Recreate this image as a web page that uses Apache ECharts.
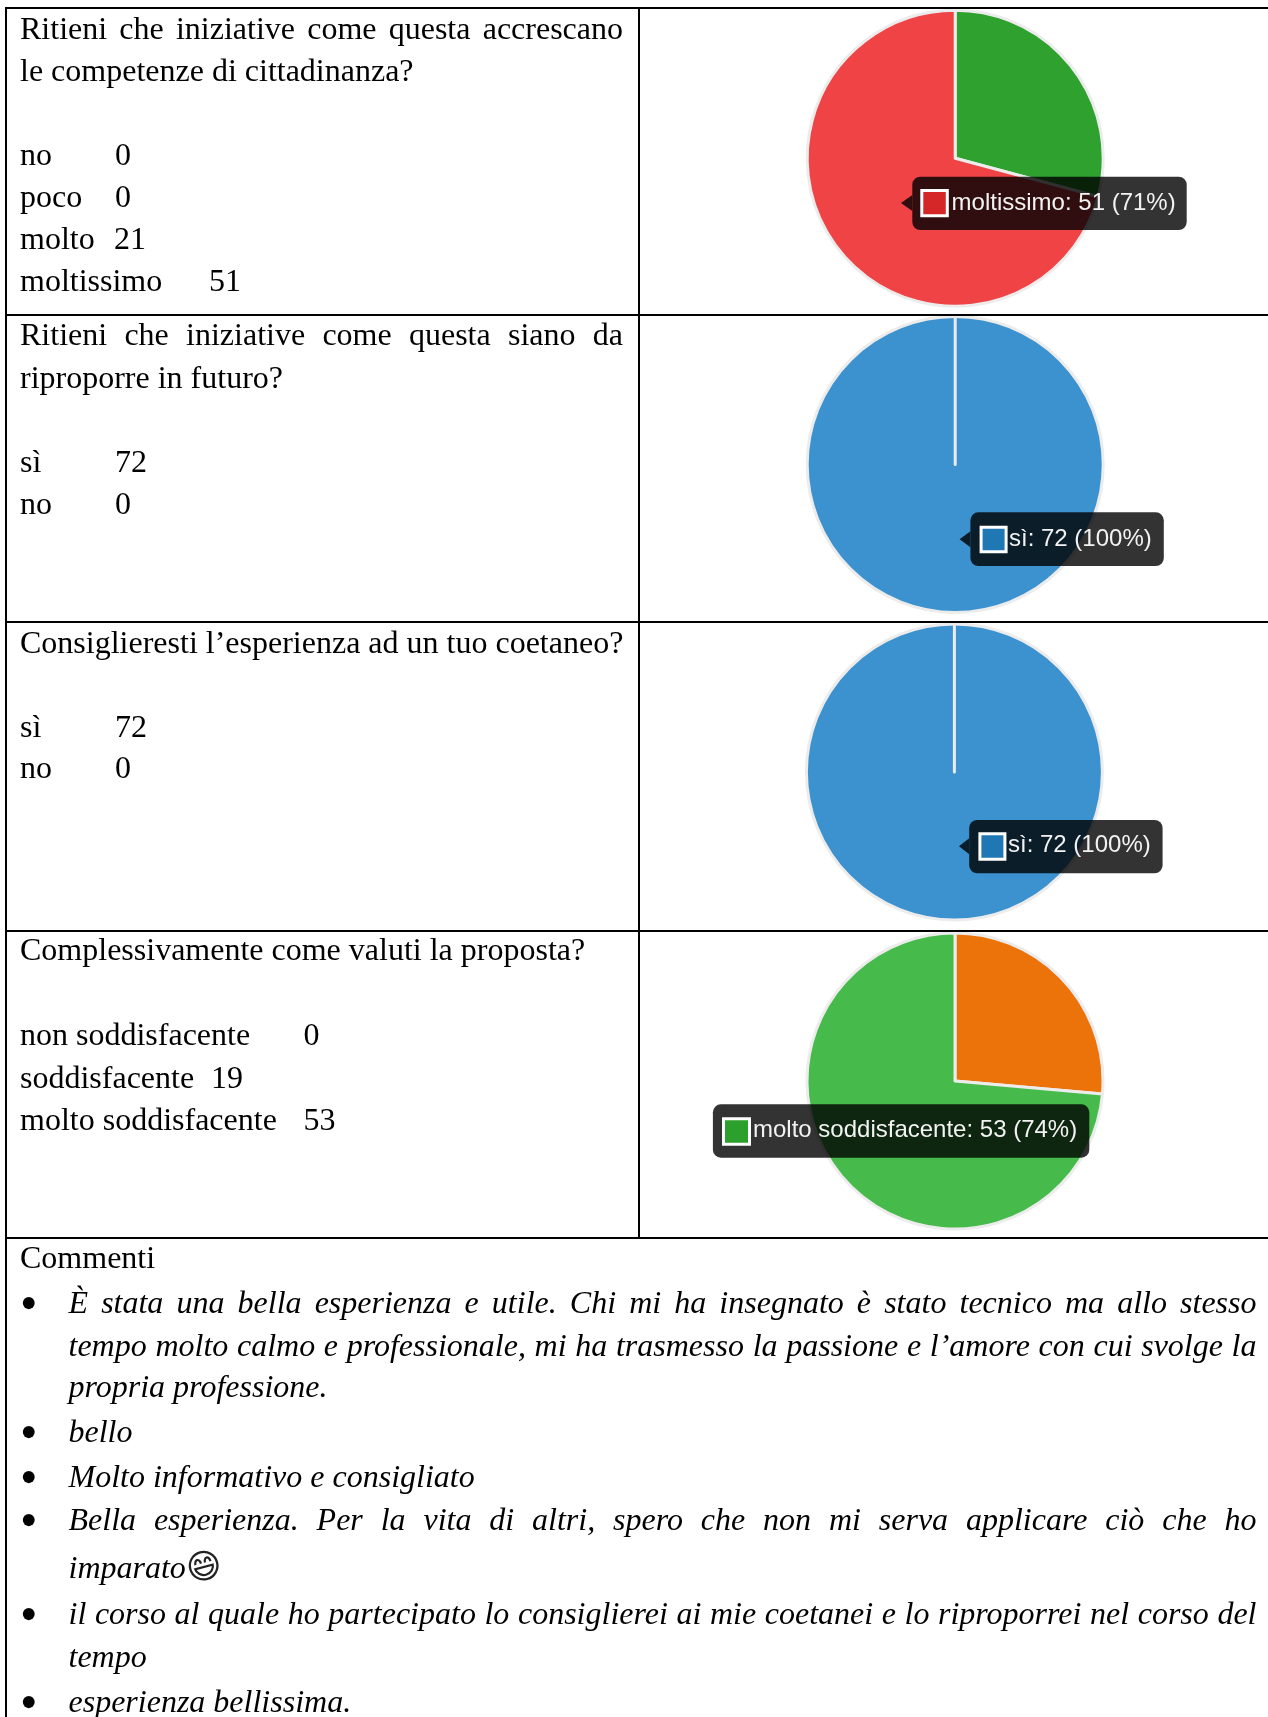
<!DOCTYPE html>
<html lang="it">
<head>
<meta charset="utf-8">
<title>Questionario</title>
<script src="https://cdn.jsdelivr.net/npm/echarts@6/dist/echarts.min.js"></script>
<style>
html,body{margin:0;padding:0;background:#fff;}
#page{position:relative;width:1268px;height:1717px;overflow:hidden;background:#fff;}
#chart{position:absolute;left:0;top:0;width:1268px;height:1717px;filter:blur(0.6px);}
.ln{position:absolute;white-space:nowrap;color:#000;font-family:"Liberation Serif","Times New Roman",serif;font-size:32px;height:40px;line-height:40px;}
.just{white-space:normal;text-align:justify;text-align-last:justify;}
.it{font-style:italic;}
.rule{position:absolute;background:#000;}
</style>
</head>
<body>
<div id="page">
<div id="chart"></div>
</div>
<script>
// ---- pie data ----
const categories1 = ['no', 'poco', 'molto', 'moltissimo'];
const values1 = [0, 0, 21, 51];
const colors1 = ['#ececec', '#ececec', '#2ea12e', '#f04345'];
const categories2 = ['sì', 'no'];
const values2 = [72, 0];
const colors2 = ['#3c91cf', '#3c91cf'];
const categories3 = ['sì', 'no'];
const values3 = [72, 0];
const colors3 = ['#3c91cf', '#3c91cf'];
const categories4 = ['non soddisfacente', 'soddisfacente', 'molto soddisfacente'];
const values4 = [0, 19, 53];
const colors4 = ['#ececec', '#ec730a', '#46ba4a'];

// ---- questions and comments ----
const question1 = ['Ritieni che iniziative come questa accrescano', 'le competenze di cittadinanza?'];
const question2 = ['Ritieni che iniziative come questa siano da', 'riproporre in futuro?'];
const question3 = ['Consiglieresti l’esperienza ad un tuo coetaneo?'];
const question4 = ['Complessivamente come valuti la proposta?'];
const commentsTitle = 'Commenti';
const comments = [
  ['È stata una bella esperienza e utile. Chi mi ha insegnato è stato tecnico ma allo stesso', 'tempo molto calmo e professionale, mi ha trasmesso la passione e l’amore con cui svolge la', 'propria professione.'],
  ['bello'],
  ['Molto informativo e consigliato'],
  ['Bella esperienza. Per la vita di altri, spero che non mi serva applicare ciò che ho', 'imparato\u{1F604}'],
  ['il corso al quale ho partecipato lo consiglierei ai mie coetanei e lo riproporrei nel corso del', 'tempo'],
  ['esperienza bellissima.']
];

// ---- layout ----
const rowLines = [7.7, 314.7, 621.7, 930.7, 1237.5];
const colLine = 639, leftLine = 6;
const textX = 20, textRight = 623;
const commentX = 68.5, commentRight = 1256.5, bulletX = 20;
const questionBase = [[39, 81], [345, 387.7], [652.7], [960]];
const answerBase = [[165, 207, 249, 291], [472, 514], [736.7, 778], [1045, 1088, 1130]];
const valueX = [[115, 115, 114, 209], [115, 115], [115, 115], [303.5, 211, 303.5]];
const commentsBase = 1268;
const commentBase = [[1313, 1356, 1397], [1442], [1487], [1530, 1577], [1624, 1667], [1712]];
const bulletBase = [1319.5, 1448.5, 1493.5, 1536.5, 1630.5, 1718.5];

const pies = [
  { cats: categories1, vals: values1, cols: colors1, q: question1, c: [955.2, 158.3] },
  { cats: categories2, vals: values2, cols: colors2, q: question2, c: [955.2, 464.5] },
  { cats: categories3, vals: values3, cols: colors3, q: question3, c: [954.4, 772] },
  { cats: categories4, vals: values4, cols: colors4, q: question4, c: [955, 1081] }
];
const pieRadius = 148;

// index of the highlighted slice, tooltip box, swatch and caret
const tips = [
  { item: 3, swatch: '#d62728', box: [912.3, 176.7, 274.4, 53.3], sw: [920.3, 189, 28.5, 28.3], tx: 951.6, ty: 211, caret: [901, 203] },
  { item: 0, swatch: '#1f77b4', box: [970.4, 512.3, 193.4, 53.7], sw: [979.6, 525.7, 28, 27.6], tx: 1009, ty: 547, caret: [959.6, 539.3] },
  { item: 0, swatch: '#1f77b4', box: [969.2, 820, 193.4, 53.3], sw: [978.4, 832.3, 28, 28.4], tx: 1008, ty: 853.7, caret: [959, 846.3] },
  { item: 2, swatch: '#2ca02c', box: [712.9, 1104.3, 376.4, 53.4], sw: [722, 1117.3, 29, 28.4], tx: 753, ty: 1138.3, caret: null }
];

// ---- document text and table rules (HTML) ----
const page = document.getElementById('page');
function addLine(text, x, baseline, opts) {
  opts = opts || {};
  const fs = opts.size || 32;
  const d = document.createElement('div');
  d.className = 'ln' + (opts.just ? ' just' : '') + (opts.it ? ' it' : '');
  d.style.left = x + 'px';
  d.style.fontSize = fs + 'px';
  d.style.top = (baseline - (20 + 0.3375 * fs)) + 'px';
  if (opts.right) d.style.width = (opts.right - x) + 'px';
  d.textContent = text;
  page.appendChild(d);
  return d;
}
function addRule(x, y, w, h) {
  const d = document.createElement('div');
  d.className = 'rule';
  d.style.cssText = 'left:' + x + 'px;top:' + y + 'px;width:' + w + 'px;height:' + h + 'px;';
  page.appendChild(d);
}
rowLines.forEach(y => addRule(leftLine - 1, Math.round(y) - 1, 1268 - leftLine + 1, 2));
addRule(colLine - 1, Math.round(rowLines[0]), 2, rowLines[4] - rowLines[0]);
addRule(leftLine - 1, Math.round(rowLines[0]), 2, 1717 - rowLines[0]);

pies.forEach((p, i) => {
  p.q.forEach((t, j) => addLine(t, textX, questionBase[i][j], { just: i < 2 && j === 0, right: textRight }));
  p.cats.forEach((name, j) => {
    addLine(name, textX, answerBase[i][j]);
    addLine(String(p.vals[j]), valueX[i][j], answerBase[i][j]);
  });
});
addLine(commentsTitle, textX, commentsBase);
comments.forEach((lines, i) => {
  addLine('•', bulletX, bulletBase[i], { size: 50 });
  lines.forEach((t, j) => {
    const just = j < lines.length - 1;
    const d = addLine('', commentX, commentBase[i][j], { it: true, just: just, right: just ? commentRight : null });
    const m = t.match(/^(.*?)([\u{1F600}-\u{1F64F}])$/u);
    if (m) {
      d.textContent = m[1];
      const s = document.createElement('span');
      s.textContent = m[2];
      s.style.cssText = 'display:inline-block;font-family:"DejaVu Sans";font-style:normal;font-size:34px;transform:rotate(-15deg);color:#222;';
      d.appendChild(s);
    } else {
      d.textContent = t;
    }
  });
});

// ---- chart ----
const chart = echarts.init(document.getElementById('chart'), null, { renderer: 'canvas' });

const graphics = [];
tips.forEach((t, i) => {
  const p = pies[i];
  const total = p.vals.reduce((a, b) => a + b, 0);
  const v = p.vals[t.item];
  const label = p.cats[t.item] + ': ' + v + ' (' + Math.round(v / total * 100) + '%)';
  const [bx, by, bw, bh] = t.box;
  graphics.push({ type: 'rect', z: 60, silent: true, shape: { x: bx, y: by, width: bw, height: bh, r: 8 }, style: { fill: 'rgba(0,0,0,0.8)' } });
  if (t.caret) {
    const [cx, cy] = t.caret;
    graphics.push({ type: 'polygon', z: 60, silent: true, shape: { points: [[bx, cy - 8], [cx, cy], [bx, cy + 8]] }, style: { fill: 'rgba(0,0,0,0.8)' } });
  }
  const [sx, sy, sw, sh] = t.sw;
  graphics.push({ type: 'rect', z: 61, silent: true, shape: { x: sx + 1.5, y: sy + 1.5, width: sw - 3, height: sh - 3 }, style: { fill: t.swatch, stroke: '#fff', lineWidth: 3 } });
  graphics.push({ type: 'text', z: 62, silent: true, x: t.tx, y: t.ty - 8, style: { text: label, fill: '#f2f2f2', font: '24px "Liberation Sans", Arial, sans-serif', align: 'left', verticalAlign: 'middle' } });
});

chart.setOption({
  animation: false,
  tooltip: { show: false },
  series: pies.map(p => ({
    type: 'pie',
    silent: true,
    center: p.c,
    radius: [0, pieRadius],
    startAngle: 90,
    clockwise: true,
    label: { show: false },
    labelLine: { show: false },
    itemStyle: { borderColor: '#ececec', borderWidth: 3 },
    data: p.cats.map((name, j) => ({ name, value: p.vals[j], itemStyle: { color: p.cols[j] } }))
  })),
  graphic: { elements: graphics }
});
</script>
</body>
</html>
